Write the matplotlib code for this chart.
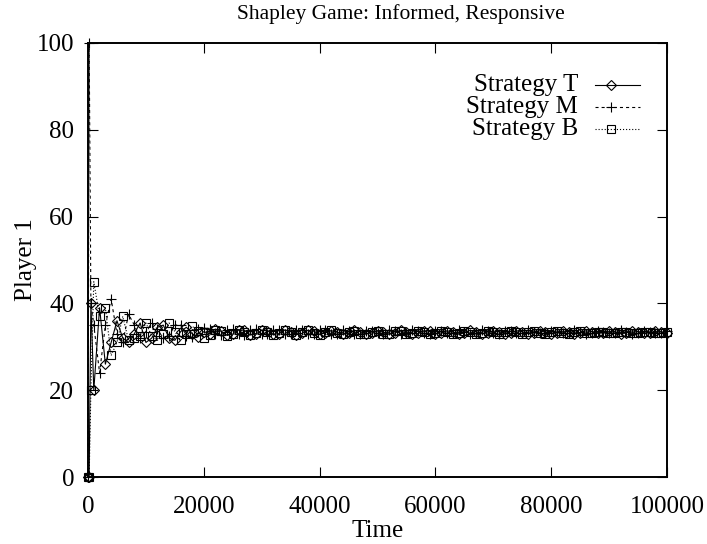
import matplotlib
matplotlib.use("Agg")
import matplotlib.pyplot as plt
from matplotlib.lines import Line2D

plt.rcParams["font.family"] = ["Liberation Serif", "DejaVu Serif"]
plt.rcParams["lines.scale_dashes"] = False

# Sample times
time = [0, 200, 500, 1000] + list(range(2000, 100001, 1000))

# Share of play (%) for each strategy of Player 1
strategy_t = [
    0, 0, 40, 20, 39, 26, 31, 36, 32, 31, 33, 35.5, 31, 32, 34.5, 35, 32, 31.5, 33.5, 34.5, 33, 32.3, 33.5,
    33.0, 34.1, 33.6, 32.7, 32.9, 33.9, 33.8, 32.8, 32.9, 33.8,
    33.7, 32.9, 33.0, 33.9, 33.5, 32.8, 33.1, 33.8, 33.6, 32.9,
    33.2, 33.7, 33.4, 32.9, 33.1, 33.8, 33.5, 33.0, 33.2, 33.7,
    33.4, 32.9, 33.2, 33.8, 33.5, 33.0, 33.1, 33.7, 33.6, 33.0,
    33.2, 33.7, 33.4, 32.9, 33.2, 33.8, 33.5, 33.0, 33.2, 33.6,
    33.5, 33.0, 33.1, 33.7, 33.5, 33.0, 33.2, 33.7, 33.4, 33.0,
    33.2, 33.6, 33.5, 33.0, 33.1, 33.7, 33.5, 33.1, 33.2, 33.6,
    33.4, 33.0, 33.2, 33.7, 33.5, 33.1, 33.2, 33.6, 33.4, 33.1,
]
strategy_m = [
    0, 100, 40, 35, 24, 35, 41, 33, 31, 37.5, 35, 32, 33.5, 35.5, 34, 32, 32.5, 35, 35, 32.5, 32.3, 34, 34.4,
    34.2, 33.0, 32.8, 33.9, 34.0, 32.9, 32.8, 33.8, 34.0, 33.0,
    32.9, 33.8, 33.9, 33.0, 32.9, 33.9, 33.8, 33.0, 32.9, 33.8,
    33.8, 33.0, 33.0, 33.9, 33.6, 33.0, 33.0, 33.7, 33.7, 33.1,
    33.0, 33.8, 33.6, 33.0, 33.1, 33.8, 33.6, 33.1, 33.0, 33.7,
    33.7, 33.1, 33.1, 33.8, 33.5, 33.0, 33.2, 33.8, 33.6, 33.1,
    33.0, 33.7, 33.6, 33.1, 33.1, 33.8, 33.5, 33.1, 33.2, 33.7,
    33.5, 33.1, 33.1, 33.8, 33.5, 33.0, 33.2, 33.7, 33.5, 33.1,
    33.2, 33.8, 33.5, 33.0, 33.2, 33.7, 33.5, 33.1, 33.2, 33.7,
]
strategy_b = [
    0, 0, 20, 45, 37, 39, 28, 31, 37, 31.5, 32, 32.5, 35.5, 32.5, 31.5, 33, 35.5, 33.5, 31.5, 33, 34.7, 33.7, 32.1,
    32.7, 33.8, 33.6, 32.6, 33.0, 33.9, 33.5, 32.7, 33.1, 33.8,
    33.4, 32.7, 33.2, 33.9, 33.3, 32.8, 33.3, 33.8, 33.2, 32.8,
    33.3, 33.8, 33.1, 32.9, 33.4, 33.7, 33.0, 32.9, 33.5, 33.7,
    33.0, 33.0, 33.6, 33.6, 32.9, 33.1, 33.6, 33.5, 32.9, 33.2,
    33.6, 33.4, 32.9, 33.2, 33.7, 33.4, 32.9, 33.2, 33.6, 33.3,
    33.0, 33.3, 33.6, 33.3, 33.0, 33.3, 33.6, 33.2, 33.0, 33.3,
    33.6, 33.2, 33.0, 33.3, 33.6, 33.2, 33.1, 33.3, 33.5, 33.2,
    33.1, 33.3, 33.5, 33.2, 33.1, 33.3, 33.5, 33.2, 33.1, 33.3,
]

labels = ["Strategy T", "Strategy M", "Strategy B"]
xticks = [0, 20000, 40000, 60000, 80000, 100000]
yticks = [0, 20, 40, 60, 80, 100]

styles = [
    dict(linestyle="-", marker="D", markersize=4.8),
    dict(linestyle=(0, (2.2, 2.2)), marker="+", markersize=7),
    dict(linestyle=(0, (0.8, 1.4)), marker="s", markersize=5.4),
]

fig = plt.figure(figsize=(7.07, 5.44), dpi=100)
ax = fig.add_axes([88 / 707, 1 - 477 / 544, 579 / 707, 434 / 544])

for ys, st in zip([strategy_t, strategy_m, strategy_b], styles):
    ax.plot(time, ys, color="black", linewidth=0.8, markerfacecolor="none",
            markeredgecolor="black", markeredgewidth=0.8, clip_on=False, **st)

ax.set_xlim(0, 100000)
ax.set_ylim(0, 100)
ax.set_xticks(xticks)
ax.set_yticks(yticks)
ax.tick_params(direction="in", length=7, width=0.8, labelsize=18,
               top=True, right=True)
ax.tick_params(axis="x", pad=14)
ax.tick_params(axis="y", pad=10)
for sp in ax.spines.values():
    sp.set_linewidth(1.4)

ax.set_xlabel("Time", fontsize=18, labelpad=1)
ax.set_ylabel("Player 1", fontsize=18, labelpad=0)
fig.text(401 / 707, 1 - 14 / 544, "Shapley Game: Informed, Responsive",
         fontsize=15.5, ha="center", va="center")

# Key in the upper right, labels right-aligned with line samples after them
key_rows = [85, 107, 129]
for lab, st, yp in zip(labels, styles, key_rows):
    yf = 1 - yp / 544
    fig.text(578 / 707, yf, lab, fontsize=18, ha="right", va="center")
    fig.add_artist(Line2D([595 / 707, 640 / 707], [yf, yf], color="black",
                          linewidth=0.8, linestyle=st["linestyle"],
                          transform=fig.transFigure))
    fig.add_artist(Line2D([611 / 707], [yf], color="black", marker=st["marker"],
                          markersize=st["markersize"], markerfacecolor="none",
                          markeredgewidth=0.8, linestyle="none",
                          transform=fig.transFigure))

fig.savefig("out.png", dpi=100)
